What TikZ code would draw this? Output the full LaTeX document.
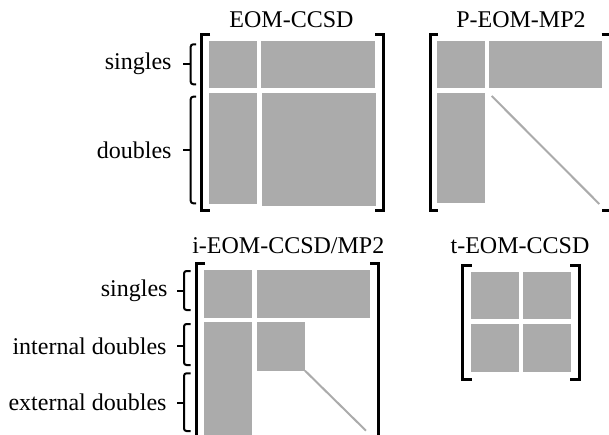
\documentclass[tikz,border=0pt]{standalone}
\usepackage{fontspec}
\setmainfont{Liberation Serif}
\definecolor{blockgray}{RGB}{171,171,171}
\begin{document}
\begin{tikzpicture}[x=1pt,y=-1pt,
  blk/.style={fill=blockgray, draw=none},
  brk/.style={line width=3pt, line cap=butt, line join=miter},
  brc/.style={line width=2pt, rounded corners=2.5pt},
  tick/.style={line width=2pt},
  diag/.style={draw=blockgray, line width=2pt},
  ttl/.style={font=\fontsize{24}{28}\selectfont, anchor=base, inner sep=0pt},
  lbl/.style={font=\fontsize{24}{28}\selectfont, anchor=east, inner sep=0pt}]
\useasboundingbox (0,0) rectangle (609,435);

% ---------- EOM-CCSD ----------
\node[ttl] (tA) at (291.5,27.5) {EOM-CCSD};
\fill[blk] (209,40.7) rectangle (256.7,88.3);
\fill[blk] (261,40.7) rectangle (375,88.3);
\fill[blk] (209,93.3) rectangle (256.7,204.3);
\fill[blk] (262.3,93.3) rectangle (376,205.7);
\draw[brk] (210,35) -- (201.7,35) -- (201.7,210.7) -- (210,210.7);
\draw[brk] (375,35) -- (383.7,35) -- (383.7,210.7) -- (375,210.7);
% row labels
\draw[brc] (196,44.3) -- (190.7,44.3) -- (190.7,84.3) -- (196,84.3);
\draw[tick] (190.7,64) -- (182.7,64);
\node[lbl] (sA) at (171.7,64) {singles};
\draw[brc] (196,96.7) -- (190.7,96.7) -- (190.7,203.3) -- (196,203.3);
\draw[tick] (190.7,150) -- (182.7,150);
\node[lbl] (dA) at (171.7,150) {doubles};

% ---------- P-EOM-MP2 ----------
\node[ttl] (tB) at (521,27.5) {P-EOM-MP2};
\fill[blk] (436.7,40.7) rectangle (485,88.3);
\fill[blk] (489,40.7) rectangle (602.3,88.3);
\fill[blk] (436.7,93.3) rectangle (485,203.3);
\draw[diag] (491.7,96) -- (599.3,204);
\draw[brk] (438,35) -- (430,35) -- (430,210.7) -- (438,210.7);
\draw[brk] (601.7,35) -- (610.5,35) -- (610.5,210.7) -- (601.7,210.7);

% ---------- i-EOM-CCSD/MP2 ----------
\node[ttl] (tC) at (288.3,253.3) {i-EOM-CCSD/MP2};
\fill[blk] (204,270) rectangle (251.7,317.7);
\fill[blk] (257.3,270) rectangle (370,317.7);
\fill[blk] (204,322.3) rectangle (251.7,440);
\fill[blk] (257.3,322.3) rectangle (305,370.7);
\draw[diag] (305,370.7) -- (366,430.7);
\draw[brk] (205,263.3) -- (196.7,263.3) -- (196.7,440);
\draw[brk] (370,263.3) -- (378.3,263.3) -- (378.3,440);
% row labels
\draw[brc] (190.7,271) -- (184,271) -- (184,310) -- (190.7,310);
\draw[tick] (184,291) -- (176.7,291);
\node[lbl] (sC) at (167.7,291) {singles};
\draw[brc] (190.7,324) -- (184,324) -- (184,365) -- (190.7,365);
\draw[tick] (184,346) -- (176.7,346);
\node[lbl] (iC) at (166.7,346) {internal doubles};
\draw[brc] (190.7,373.3) -- (184,373.3) -- (184,431) -- (190.7,431);
\draw[tick] (184,402.7) -- (176.7,402.7);
\node[lbl] (eC) at (166.7,402.7) {external doubles};

% ---------- t-EOM-CCSD ----------
\node[ttl] (tD) at (520,253.3) {t-EOM-CCSD};
\fill[blk] (471,271.7) rectangle (519,319.3);
\fill[blk] (523.3,271.7) rectangle (571,319.3);
\fill[blk] (471,324) rectangle (519,371.7);
\fill[blk] (523.3,324) rectangle (571,371.7);
\draw[brk] (471.5,265) -- (462.3,265) -- (462.3,379.3) -- (471.5,379.3);
\draw[brk] (570,265) -- (579,265) -- (579,379.3) -- (570,379.3);
\end{tikzpicture}
\end{document}
